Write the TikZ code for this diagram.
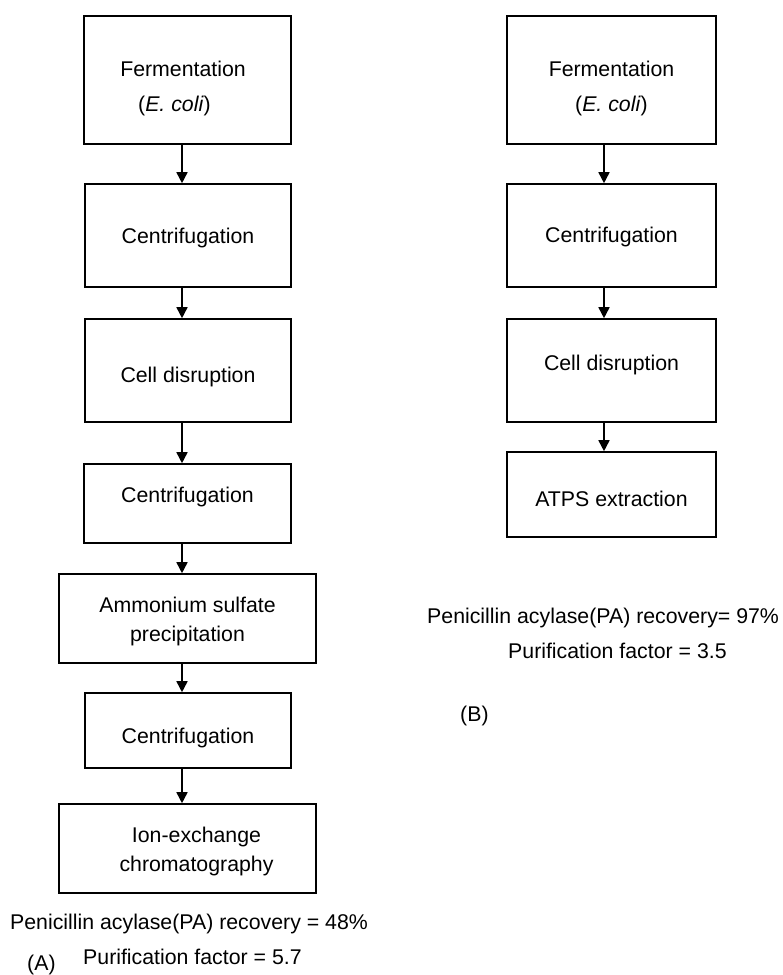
\documentclass[tikz,border=0pt]{standalone}
\usepackage{fontspec}
\setmainfont{Liberation Sans}
\usetikzlibrary{arrows.meta}
\begin{document}
\begin{tikzpicture}[x=1pt,y=-1pt,
  box/.style={draw=black, line width=1.6pt, inner sep=0pt, text=black,
    font=\fontsize{21.3}{26}\selectfont},
  vb/.style 2 args={text height=#1pt, text depth=#2pt},
  arr/.style={draw=black, line width=1.6pt, -{Triangle[length=11pt,width=11pt]}},
  lbl/.style={font=\fontsize{21.3}{26}\selectfont, inner sep=0pt, anchor=base west, text=black}]

\useasboundingbox (0,0) rectangle (783,975);

\coordinate (ax) at (182,0);
\coordinate (bx) at (604,0);

% ---- Column A ----
\node[box, minimum width=207pt, minimum height=128pt, align=center,
  font=\fontsize{21.3}{35}\selectfont] (f1) at (187.5,80)
  {\rule{0pt}{32.5pt}Fermentation\hspace*{9pt}\\(\textit{E. coli})\hspace*{26pt}};
\node[box, minimum width=206pt, minimum height=103pt, vb={20.5}{5.5}] (c1) at (188,235.5) {Centrifugation};
\node[box, minimum width=206pt, minimum height=103pt, vb={24.5}{1.5}] (d1) at (188,370.5) {Cell disruption};
\node[box, minimum width=207pt, minimum height=79pt, vb={11.5}{14.5}] (c2) at (187.5,503.5) {Centrifugation};
\node[box, minimum width=257pt, minimum height=89pt, align=center,
  font=\fontsize{21.3}{29}\selectfont] (a1) at (187.5,618.5)
  {\rule{0pt}{20.5pt}Ammonium sulfate\\precipitation};
\node[box, minimum width=206pt, minimum height=75pt, vb={25.5}{0.5}] (c3) at (188,730.5) {Centrifugation};
\node[box, minimum width=257pt, minimum height=89pt, align=center,
  font=\fontsize{21.3}{29}\selectfont] (i1) at (187.5,848.5)
  {\rule{0pt}{20.5pt}\hspace*{18pt}Ion-exchange\\\hspace*{18pt}chromatography};

\draw[arr] (f1.south -| ax) -- (c1.north -| ax);
\draw[arr] (c1.south -| ax) -- (d1.north -| ax);
\draw[arr] (d1.south -| ax) -- (c2.north -| ax);
\draw[arr] (c2.south -| ax) -- (a1.north -| ax);
\draw[arr] (a1.south -| ax) -- (c3.north -| ax);
\draw[arr] (c3.south -| ax) -- (i1.north -| ax);

\node[lbl] (ra1) at (10,929) {Penicillin acylase(PA) recovery = 48\%};
\node[lbl] (ra2) at (83,964) {Purification factor = 5.7};
\node[lbl] (la) at (27,970) {(A)};

% ---- Column B ----
\node[box, minimum width=209pt, minimum height=128pt, align=center,
  font=\fontsize{21.3}{35}\selectfont] (f2) at (611.5,80)
  {\rule{0pt}{32.5pt}Fermentation\\(\textit{E. coli})};
\node[box, minimum width=209pt, minimum height=103pt, vb={19.5}{6.5}] (c4) at (611.5,235.5) {Centrifugation};
\node[box, minimum width=209pt, minimum height=103pt, vb={12.5}{13.5}] (d2) at (611.5,370.5) {Cell disruption};
\node[box, minimum width=209pt, minimum height=85pt, vb={24.5}{1.5}] (e2) at (611.5,494.5) {ATPS extraction};

\draw[arr] (f2.south -| bx) -- (c4.north -| bx);
\draw[arr] (c4.south -| bx) -- (d2.north -| bx);
\draw[arr] (d2.south -| bx) -- (e2.north -| bx);

\node[lbl] (rb1) at (427,623) {Penicillin acylase(PA) recovery= 97\%};
\node[lbl] (rb2) at (508,658) {Purification factor = 3.5};
\node[lbl] (lb) at (460,721) {(B)};
\end{tikzpicture}
\end{document}
